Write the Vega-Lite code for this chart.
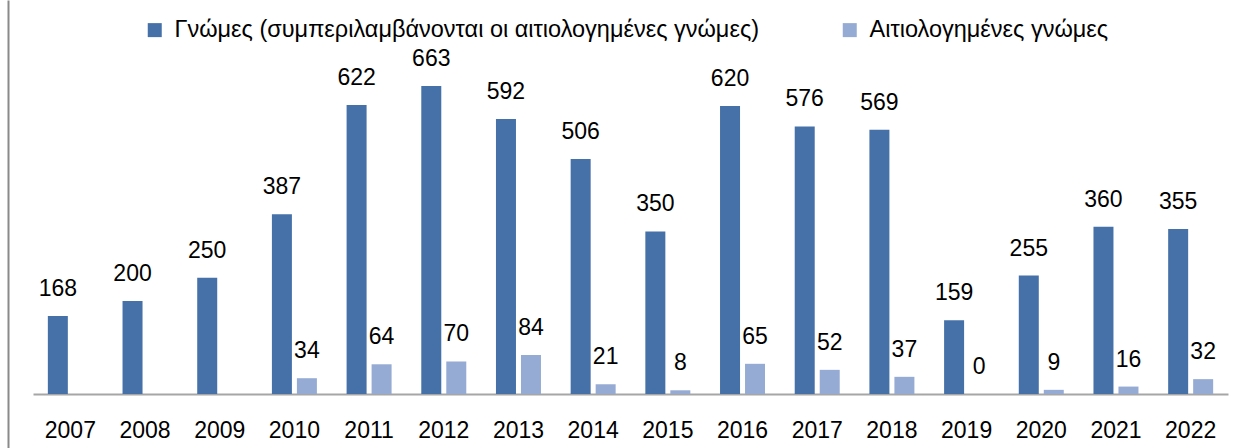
{
  "$schema": "https://vega.github.io/schema/vega-lite/v6.json",
  "width": 1195,
  "height": 448,
  "autosize": {"type": "none"},
  "padding": {"left": 33, "top": 0, "right": 13, "bottom": 0},
  "background": "white",
  "config": {"view": {"stroke": null}, "font": "Liberation Sans"},
  "data": {"values": [
    {"year": "2007", "series": "Γνώμες (συμπεριλαμβάνονται οι αιτιολογημένες γνώμες)", "value": 168},
    {"year": "2008", "series": "Γνώμες (συμπεριλαμβάνονται οι αιτιολογημένες γνώμες)", "value": 200},
    {"year": "2009", "series": "Γνώμες (συμπεριλαμβάνονται οι αιτιολογημένες γνώμες)", "value": 250},
    {"year": "2010", "series": "Γνώμες (συμπεριλαμβάνονται οι αιτιολογημένες γνώμες)", "value": 387},
    {"year": "2011", "series": "Γνώμες (συμπεριλαμβάνονται οι αιτιολογημένες γνώμες)", "value": 622},
    {"year": "2012", "series": "Γνώμες (συμπεριλαμβάνονται οι αιτιολογημένες γνώμες)", "value": 663},
    {"year": "2013", "series": "Γνώμες (συμπεριλαμβάνονται οι αιτιολογημένες γνώμες)", "value": 592},
    {"year": "2014", "series": "Γνώμες (συμπεριλαμβάνονται οι αιτιολογημένες γνώμες)", "value": 506},
    {"year": "2015", "series": "Γνώμες (συμπεριλαμβάνονται οι αιτιολογημένες γνώμες)", "value": 350},
    {"year": "2016", "series": "Γνώμες (συμπεριλαμβάνονται οι αιτιολογημένες γνώμες)", "value": 620},
    {"year": "2017", "series": "Γνώμες (συμπεριλαμβάνονται οι αιτιολογημένες γνώμες)", "value": 576},
    {"year": "2018", "series": "Γνώμες (συμπεριλαμβάνονται οι αιτιολογημένες γνώμες)", "value": 569},
    {"year": "2019", "series": "Γνώμες (συμπεριλαμβάνονται οι αιτιολογημένες γνώμες)", "value": 159},
    {"year": "2020", "series": "Γνώμες (συμπεριλαμβάνονται οι αιτιολογημένες γνώμες)", "value": 255},
    {"year": "2021", "series": "Γνώμες (συμπεριλαμβάνονται οι αιτιολογημένες γνώμες)", "value": 360},
    {"year": "2022", "series": "Γνώμες (συμπεριλαμβάνονται οι αιτιολογημένες γνώμες)", "value": 355},
    {"year": "2010", "series": "Αιτιολογημένες γνώμες", "value": 34},
    {"year": "2011", "series": "Αιτιολογημένες γνώμες", "value": 64},
    {"year": "2012", "series": "Αιτιολογημένες γνώμες", "value": 70},
    {"year": "2013", "series": "Αιτιολογημένες γνώμες", "value": 84},
    {"year": "2014", "series": "Αιτιολογημένες γνώμες", "value": 21},
    {"year": "2015", "series": "Αιτιολογημένες γνώμες", "value": 8},
    {"year": "2016", "series": "Αιτιολογημένες γνώμες", "value": 65},
    {"year": "2017", "series": "Αιτιολογημένες γνώμες", "value": 52},
    {"year": "2018", "series": "Αιτιολογημένες γνώμες", "value": 37},
    {"year": "2019", "series": "Αιτιολογημένες γνώμες", "value": 0},
    {"year": "2020", "series": "Αιτιολογημένες γνώμες", "value": 9},
    {"year": "2021", "series": "Αιτιολογημένες γνώμες", "value": 16},
    {"year": "2022", "series": "Αιτιολογημένες γνώμες", "value": 32}
  ]},
  "encoding": {
    "x": {
      "field": "year", "type": "nominal",
      "scale": {"paddingInner": 0, "paddingOuter": 0},
      "axis": {"orient": "bottom", "offset": -54, "title": null, "ticks": false, "labelAngle": 0, "labelFontSize": 23, "labelColor": "black", "labelPadding": 25, "domainColor": "#A6A6A6", "domainWidth": 2}
    },
    "xOffset": {
      "field": "series", "type": "nominal",
      "scale": {"domain": ["Γνώμες (συμπεριλαμβάνονται οι αιτιολογημένες γνώμες)", "Αιτιολογημένες γνώμες"], "paddingInner": 0.2, "paddingOuter": 0.594}
    },
    "y": {
      "field": "value", "type": "quantitative", "stack": null,
      "scale": {"domain": [-116.2, 848], "nice": false, "zero": false},
      "axis": {"orient": "left", "offset": 25, "labels": false, "ticks": false, "grid": false, "title": null, "domainColor": "#8A8A8A", "domainWidth": 2}
    }
  },
  "layer": [
    {
      "mark": {"type": "bar"},
      "encoding": {
        "y2": {"datum": 0},
        "color": {
          "field": "series", "type": "nominal",
          "scale": {"domain": ["Γνώμες (συμπεριλαμβάνονται οι αιτιολογημένες γνώμες)", "Αιτιολογημένες γνώμες"], "range": ["#4571A8", "#95ABD3"]},
          "legend": {"orient": "none", "legendX": 110, "legendY": 18, "direction": "horizontal", "title": null, "symbolType": "square", "symbolSize": 196, "symbolStrokeWidth": 0, "labelFontSize": 23.5, "labelColor": "black", "labelOffset": 8, "labelLimit": 1000, "columnPadding": 78}
        }
      }
    },
    {
      "mark": {"type": "text", "dy": -20, "baseline": "alphabetic", "fontSize": 23, "color": "black"},
      "encoding": {"text": {"field": "value", "type": "quantitative"}}
    }
  ]
}
